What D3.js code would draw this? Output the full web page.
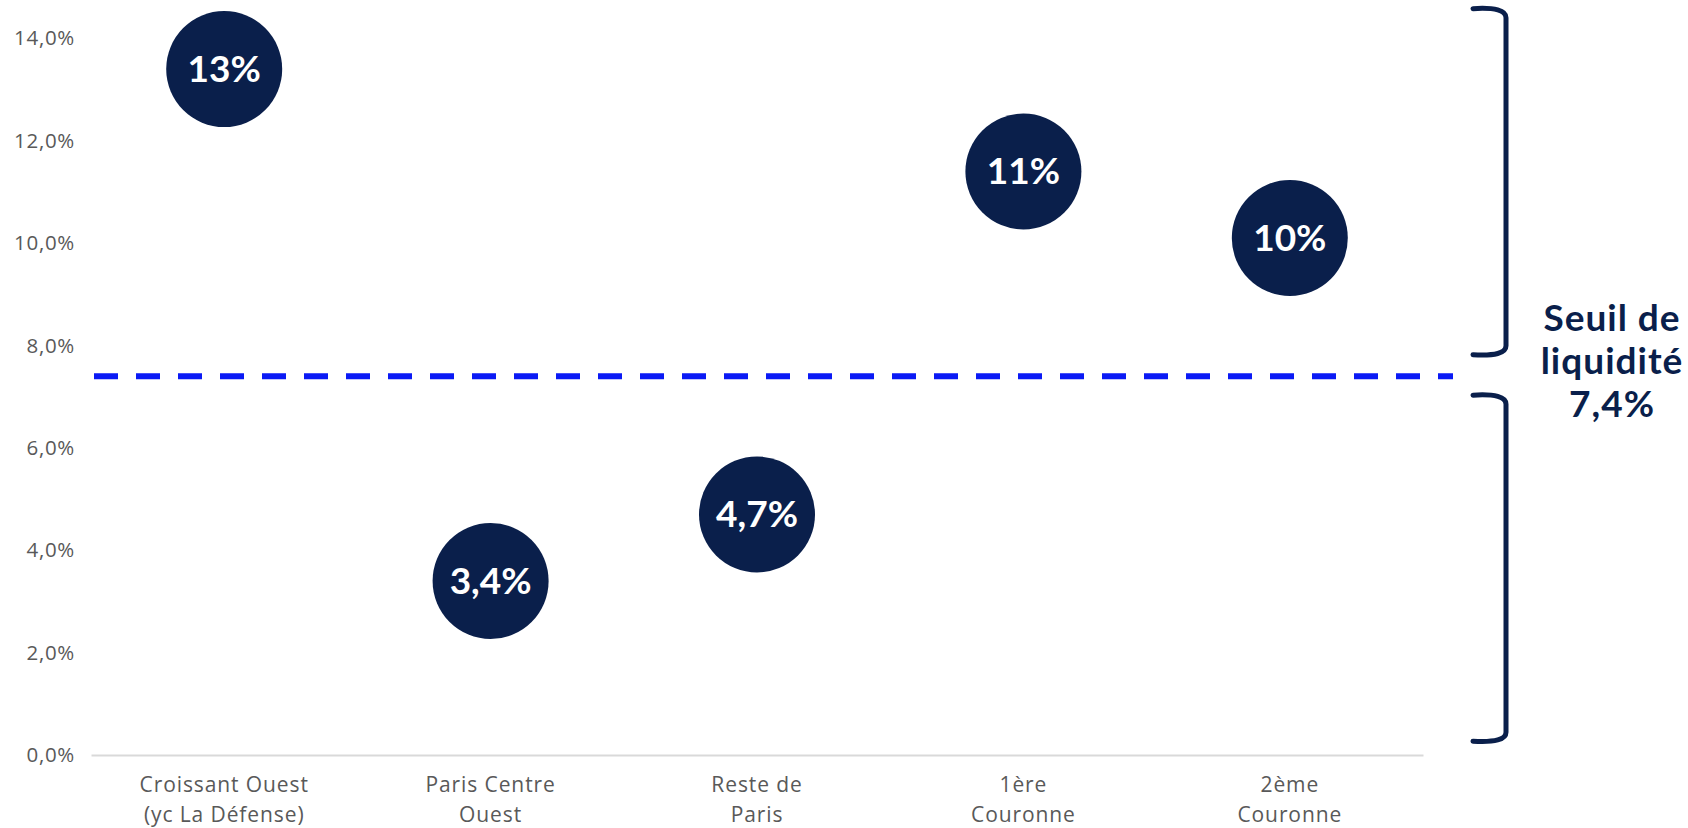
<!DOCTYPE html>
<html>
<head>
<meta charset="utf-8">
<script src="https://cdn.jsdelivr.net/npm/d3@7"></script>
<style>
  body { margin: 0; background: #ffffff; }
  svg { display: block; }
</style>
</head>
<body>
<svg id="chart" width="1688" height="828"></svg>
<script>
// Market segments (two-line labels) and their rates, in percent
const categories = [
  ["Croissant Ouest", "(yc La Défense)"],
  ["Paris Centre", "Ouest"],
  ["Reste de", "Paris"],
  ["1ère", "Couronne"],
  ["2ème", "Couronne"]
];
const values = [13.4, 3.4, 4.7, 11.4, 10.1];
const yTicks = [0, 2, 4, 6, 8, 10, 12, 14];

// Liquidity threshold and its annotation
const threshold = 7.4;
const thresholdLabel = ["Seuil de", "liquidité", "7,4%"];
const bracketRanges = [[7.8, 14.6], [0.25, 7.05]];

const navy = "#0a1f4b";
const grey = "#595959";
const labelFont = "'Open Sans', Lato, sans-serif";
const boldFont = "Lato, 'Open Sans', sans-serif";

const svg = d3.select("#chart");

const x = d3.scaleBand()
  .domain(categories.map(d => d.join(" ")))
  .range([91, 1423])
  .paddingInner(0).paddingOuter(0);

const y = d3.scaleLinear().domain([0, 14.75]).range([755, 0]);

const fmtComma = s => s.replace(".", ",");

// Y axis (labels only)
const yAxis = svg.append("g")
  .attr("transform", `translate(${x.range()[0]},0)`)
  .call(d3.axisLeft(y).tickValues(yTicks).tickSize(0).tickPadding(16)
    .tickFormat(d => fmtComma(d3.format(".1f")(d)) + "%"));
yAxis.select(".domain").remove();
yAxis.selectAll("text")
  .attr("fill", grey).style("font-family", labelFont).style("font-size", "20.5px")
  .style("letter-spacing", "0.7px");

// X axis: baseline and two-line category labels
const xAxis = svg.append("g")
  .attr("transform", `translate(0,${y(0)})`)
  .call(d3.axisBottom(x).tickSize(0).tickSizeOuter(0).tickPadding(0).tickFormat(() => ""));
xAxis.select(".domain").attr("stroke", "#d9d9d9").attr("stroke-width", 2);
xAxis.selectAll(".tick text").each(function (d, i) {
  const t = d3.select(this).text(null)
    .attr("fill", grey).style("font-family", labelFont).style("font-size", "21px")
    .style("letter-spacing", "0.9px")
    .attr("y", 0).attr("dy", null);
  categories[i].forEach((line, k) => {
    t.append("tspan").attr("x", 0).attr("y", 37 + k * 30).text(line);
  });
});

// Threshold line
svg.append("line")
  .attr("x1", x.range()[0] + 3).attr("x2", 1453)
  .attr("y1", y(threshold)).attr("y2", y(threshold))
  .attr("stroke", "#0a1af5").attr("stroke-width", 6)
  .attr("stroke-dasharray", "24,18");

// Bubbles with their values
const radius = 58;
const bubbles = svg.append("g").selectAll("g")
  .data(values.map((v, i) => ({ v, c: categories[i].join(" ") })))
  .join("g")
  .attr("transform", d => `translate(${x(d.c) + x.bandwidth() / 2},${y(d.v)})`);
bubbles.append("circle").attr("r", radius).attr("fill", navy);
bubbles.append("text")
  .attr("text-anchor", "middle").attr("dy", "0.35em")
  .attr("fill", "#ffffff")
  .style("font-family", boldFont).style("font-weight", 700).style("font-size", "37px")
  .text(d => fmtComma(d3.format(".2r")(d.v)) + "%");

// Brackets grouping segments above / below the threshold
const bx0 = 1473, bx1 = 1506;
svg.append("g").selectAll("path")
  .data(bracketRanges)
  .join("path")
  .attr("d", ([lo, hi]) => {
    const top = y(hi), bot = y(lo);
    return `M${bx0},${top + 1} Q${bx1},${top - 1} ${bx1},${top + 10} L${bx1},${bot - 10} Q${bx1},${bot + 1} ${bx0},${bot - 1}`;
  })
  .attr("fill", "none").attr("stroke", navy).attr("stroke-width", 5)
  .attr("stroke-linecap", "round");

// Threshold annotation
const ann = svg.append("text")
  .attr("text-anchor", "middle")
  .attr("fill", navy)
  .style("font-family", boldFont).style("font-weight", 700).style("font-size", "37px")
  .style("letter-spacing", "1px");
thresholdLabel.forEach((line, k) => {
  ann.append("tspan").attr("x", 1612).attr("y", y(threshold) - 45 + k * 43).text(line);
});
</script>
</body>
</html>
